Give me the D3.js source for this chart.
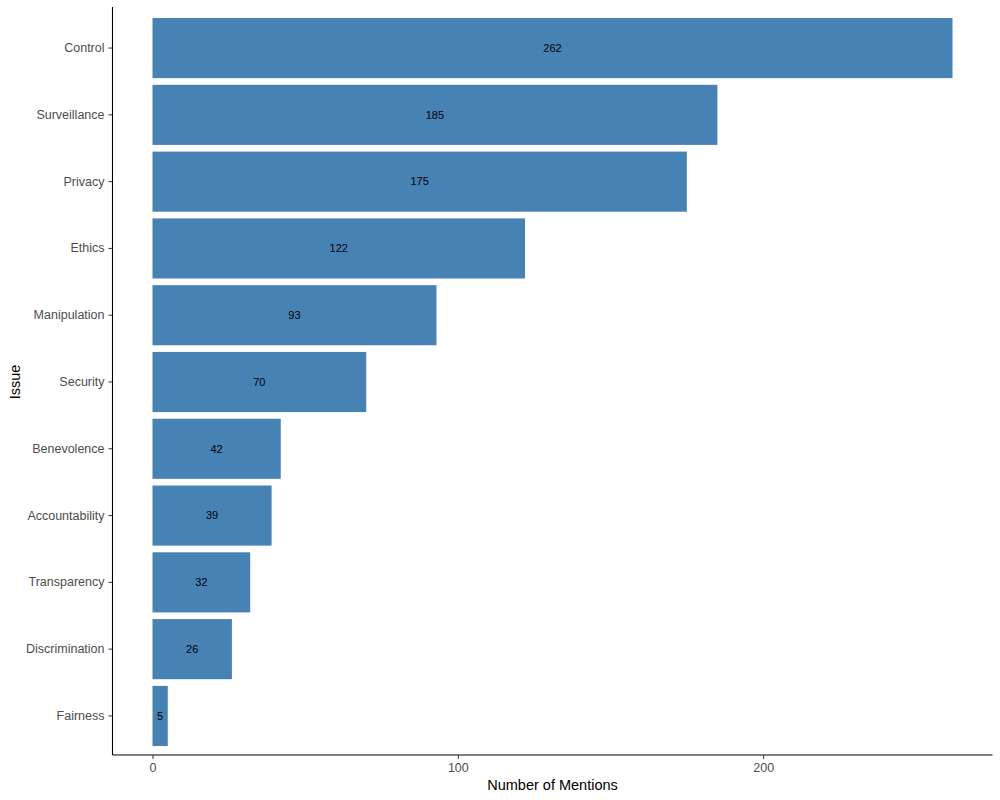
<!DOCTYPE html>
<html><head><meta charset="utf-8">
<script src="https://cdn.jsdelivr.net/npm/d3@7"></script>
<style>body{margin:0;background:#fff;} svg{display:block;font-family:"Liberation Sans",Arial,sans-serif;}</style>
</head><body><svg id="c" width="1000" height="800"></svg>
<script>
const categories = ["Control","Surveillance","Privacy","Ethics","Manipulation","Security","Benevolence","Accountability","Transparency","Discrimination","Fairness"];
const mentions = [262,185,175,122,93,70,42,39,32,26,5];
const xTicks = [0,100,200];

(function(){
const svg = d3.select("#c");
const pLeft = 112.5, pRight = 992.5, pTop = 8, pBottom = 756, axisY = 755;
const x = d3.scaleLinear().domain([-13.1, 275.1]).range([pLeft, pRight]);
const step = (pBottom - pTop) / (categories.length - 1 + 1.2);
const y = d3.scaleBand().domain(categories).range([pTop + 0.1*step, pBottom - 0.1*step]).paddingInner(0.1).paddingOuter(0.05);

const data = categories.map((c,i)=>({c, v: mentions[i]}));

svg.append("g").selectAll("rect").data(data).join("rect")
  .attr("x", x(0)).attr("y", d=>y(d.c))
  .attr("width", d=>x(d.v)-x(0)).attr("height", y.bandwidth())
  .attr("fill", "#4682b4");

svg.append("g").selectAll("text").data(data).join("text")
  .attr("x", d=>x(d.v/2)).attr("y", d=>y(d.c)+y.bandwidth()/2)
  .attr("dy","0.35em").attr("text-anchor","middle")
  .attr("font-size", 11).attr("fill","#000").text(d=>d.v);

const ya = svg.append("g").attr("transform", `translate(${pLeft},0)`)
  .call(d3.axisLeft(y).tickSize(4).tickPadding(4).tickSizeOuter(0));
ya.select(".domain").attr("d", `M0,7V${axisY}`).attr("stroke","#000").attr("stroke-width",1.1);
ya.selectAll(".tick line").attr("stroke","#333");
ya.selectAll(".tick text").attr("font-size", 12.5).attr("fill","#4d4d4d").attr("font-family",null);

const xa = svg.append("g").attr("transform", `translate(0,${axisY})`)
  .call(d3.axisBottom(x).tickValues(xTicks).tickSize(4).tickPadding(4).tickSizeOuter(0));
xa.select(".domain").attr("d", `M${pLeft},0H${pRight}`).attr("stroke","#000").attr("stroke-width",1.1);
xa.selectAll(".tick line").attr("stroke","#333");
xa.selectAll(".tick text").attr("font-size", 12.5).attr("fill","#4d4d4d").attr("font-family",null);

svg.append("text").attr("x", (pLeft+pRight)/2).attr("y", 790)
  .attr("text-anchor","middle").attr("font-size", 14.5).attr("fill","#000").text("Number of Mentions");
svg.append("text").attr("transform", `translate(20,${(pTop+pBottom)/2}) rotate(-90)`)
  .attr("text-anchor","middle").attr("font-size", 14.5).attr("fill","#000").text("Issue");
})();
</script></body></html>
